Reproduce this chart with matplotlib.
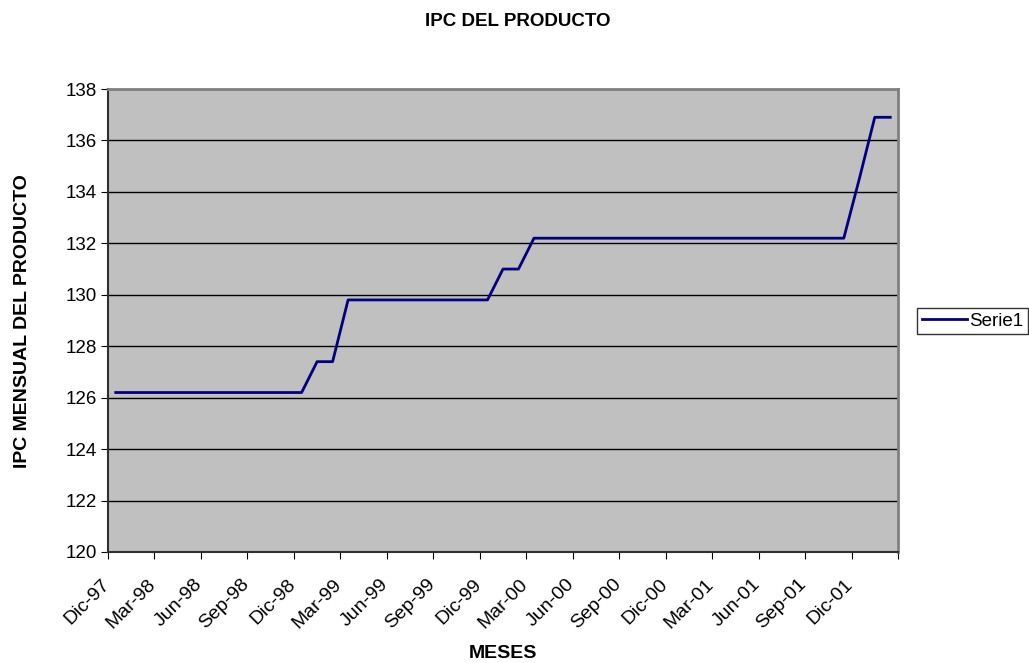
import matplotlib.pyplot as plt
import matplotlib.transforms as mtransforms
import numpy as np

plt.rcParams['font.family'] = ['Liberation Sans', 'DejaVu Sans']

# monthly IPC values, Dic-97 .. Feb-02
ipc = ([126.2] * 13 + [127.4] * 2 + [129.8] * 10 + [131.0] * 2
       + [132.2] * 21 + [134.5] + [136.9] * 2)
tick_labels = ["Dic-97", "Mar-98", "Jun-98", "Sep-98", "Dic-98", "Mar-99",
               "Jun-99", "Sep-99", "Dic-99", "Mar-00", "Jun-00", "Sep-00",
               "Dic-00", "Mar-01", "Jun-01", "Sep-01", "Dic-01"]
yticks = list(range(120, 139, 2))

x = np.arange(len(ipc))

fig = plt.figure(figsize=(10.29, 6.63), dpi=100)
ax = fig.add_axes([108 / 1029, 1 - 552 / 663, 790 / 1029, 463 / 663])
ax.set_facecolor('#C0C0C0')

line, = ax.plot(x, ipc, color='#000080', lw=2, label='Serie1')

ax.set_xlim(-0.5, len(ipc) - 0.5)
ax.set_ylim(120, 138)
ax.set_yticks(yticks)
ax.yaxis.grid(True, color='black', lw=1)
ax.set_axisbelow(True)

# tick marks on the category boundaries, a label every 3rd one
bounds = np.arange(-0.5, len(ipc), 3)
ax.set_xticks(bounds)
ax.set_xticklabels(tick_labels + [''], rotation=45, ha='right', va='top',
                   rotation_mode='anchor', fontsize=14)
ax.tick_params(axis='x', length=5, direction='out', pad=12)
ax.tick_params(axis='y', length=5, direction='out', labelsize=13.5, pad=3)
shift = mtransforms.ScaledTranslation(-7 / 100, 0, fig.dpi_scale_trans)
for lab in ax.get_xticklabels():
    lab.set_transform(lab.get_transform() + shift)

for s in ['top', 'right']:
    ax.spines[s].set_color('#808080')
    ax.spines[s].set_linewidth(2)
for s in ['left', 'bottom']:
    ax.spines[s].set_color('#303030')
    ax.spines[s].set_linewidth(1.5)

fig.text(0.503, 0.968, 'IPC DEL PRODUCTO', ha='center', va='center',
         fontsize=13.5, fontweight='bold')
fig.text(0.489, 0.014, 'MESES', ha='center', va='center',
         fontsize=14, fontweight='bold')
fig.text(0.022, 0.516, 'IPC MENSUAL DEL PRODUCTO', ha='center', va='center',
         rotation=90, fontsize=14, fontweight='bold')

leg = fig.legend(handles=[line], loc='center left',
                 bbox_to_anchor=(917 / 1029, 1 - 321 / 663),
                 frameon=True, fancybox=False, fontsize=13.5,
                 handlelength=2.4, borderpad=0.25, handletextpad=0.15,
                 borderaxespad=0)
leg.get_frame().set_edgecolor('black')
leg.get_frame().set_linewidth(1)

fig.savefig('out.png', dpi=100)
